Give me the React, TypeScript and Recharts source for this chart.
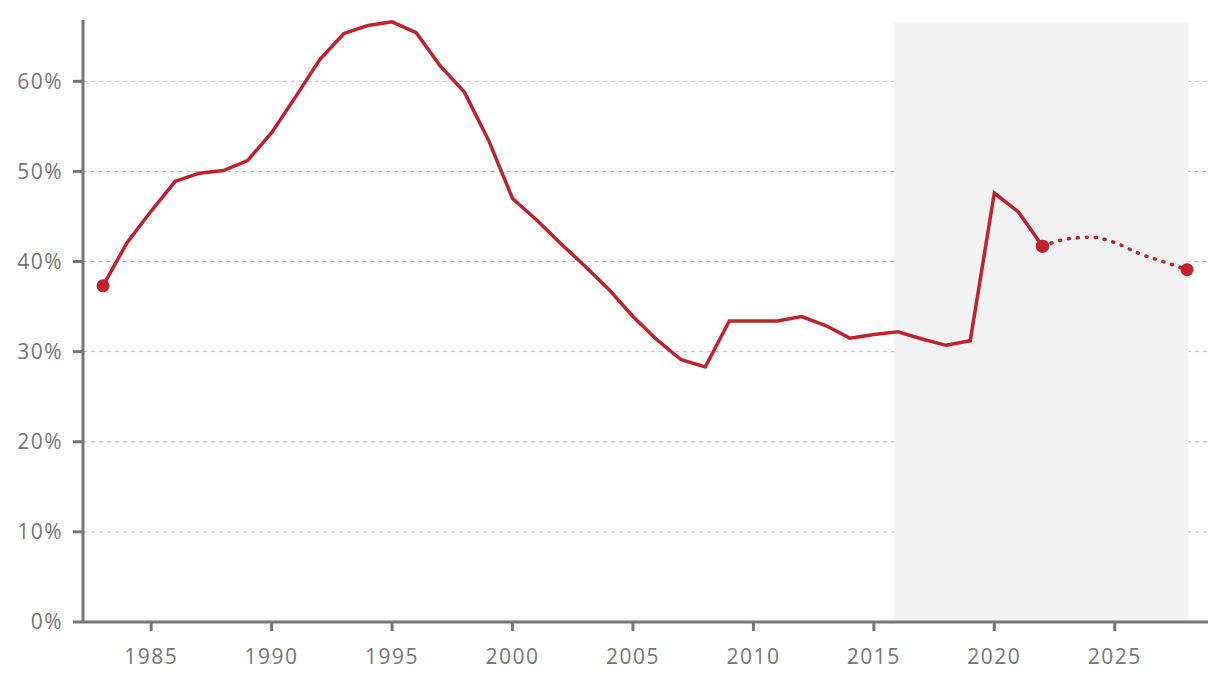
import React from 'react';
import { LineChart, Line, XAxis, YAxis, CartesianGrid, ReferenceArea } from 'recharts';

const years = [
  1983, 1984, 1985, 1986, 1987, 1988, 1989, 1990, 1991, 1992, 1993, 1994, 1995, 1996, 1997,
  1998, 1999, 2000, 2001, 2002, 2003, 2004, 2005, 2006, 2007, 2008, 2009, 2010, 2011, 2012,
  2013, 2014, 2015, 2016, 2017, 2018, 2019, 2020, 2021, 2022, 2023, 2024, 2025, 2026, 2027, 2028,
];

// actual values 1983-2022
const actual = [
  37.3, 42.1, 45.6, 48.9, 49.8, 50.1, 51.2, 54.3, 58.3, 62.4, 65.3, 66.2, 66.6, 65.4, 61.7,
  58.8, 53.5, 47.0, 44.6, 42.0, 39.5, 36.9, 33.9, 31.3, 29.1, 28.3, 33.4, 33.4, 33.4, 33.9,
  32.9, 31.5, 31.9, 32.2, 31.4, 30.7, 31.2, 47.6, 45.5, 41.7,
];

// projection 2022-2028
const forecastYears = [2022, 2023, 2024, 2025, 2026, 2027, 2028];
const forecast = [41.7, 42.5, 42.7, 42.1, 40.9, 40.0, 39.1];

const markerYears = [1983, 2022, 2028];
const xTicks = [1985, 1990, 1995, 2000, 2005, 2010, 2015, 2020, 2025];
const yTicks = [0, 10, 20, 30, 40, 50, 60];
const gridValues = [10, 20, 30, 40, 50, 60];

const data = years.map((year, i) => {
  const fi = forecastYears.indexOf(year);
  return {
    year,
    actual: i < actual.length ? actual[i] : null,
    forecast: fi >= 0 ? forecast[fi] : null,
  };
});

const RED = '#c1222b';
const AXIS = '#777777';
const FONT = '"Open Sans", sans-serif';

const renderDot = (props: any) => {
  const { cx, cy, payload, index } = props;
  if (!markerYears.includes(payload.year) || cx == null || cy == null) {
    return <g key={`d-${index}`} />;
  }
  return <circle key={`d-${index}`} cx={cx} cy={cy} r={6.5} fill={RED} stroke="none" />;
};

const tickStyle = { fill: AXIS, fontSize: 21, fontFamily: FONT, letterSpacing: 1.5 };

export default function App() {
  return (
    <div style={{ position: 'absolute', left: 0, top: 0, background: '#fff' }}>
      <LineChart
        width={1220}
        height={682}
        data={data}
        margin={{ top: 20, right: 12, left: 0, bottom: 0 }}
      >
        <ReferenceArea x1={2015.85} x2={2028.05} y1={0} y2={66.5} fill="#f2f2f2" fillOpacity={1} stroke="none" />
        <CartesianGrid
          horizontal
          vertical={false}
          horizontalValues={gridValues}
          stroke="#b3bbc1"
          strokeDasharray="4 4"
        />
        <XAxis
          dataKey="year"
          type="number"
          domain={[1982.17, 2028.87]}
          ticks={xTicks}
          allowDataOverflow
          height={60}
          stroke={AXIS}
          strokeWidth={3}
          tickSize={9}
          tickMargin={18}
          tick={tickStyle}
        />
        <YAxis
          type="number"
          domain={[0, 66.8]}
          ticks={yTicks}
          allowDataOverflow
          width={83}
          stroke={AXIS}
          strokeWidth={3}
          tickSize={10}
          tickMargin={10}
          tickFormatter={(v) => `${v}%`}
          tick={tickStyle}
        />
        <Line
          type="linear"
          dataKey="actual"
          stroke={RED}
          strokeWidth={3.5}
          dot={renderDot}
          activeDot={false}
          connectNulls={false}
          isAnimationActive={false}
        />
        <Line
          type="monotone"
          dataKey="forecast"
          stroke={RED}
          strokeWidth={3.5}
          strokeDasharray="1 8"
          strokeLinecap="round"
          dot={renderDot}
          activeDot={false}
          connectNulls={false}
          isAnimationActive={false}
        />
      </LineChart>
    </div>
  );
}
